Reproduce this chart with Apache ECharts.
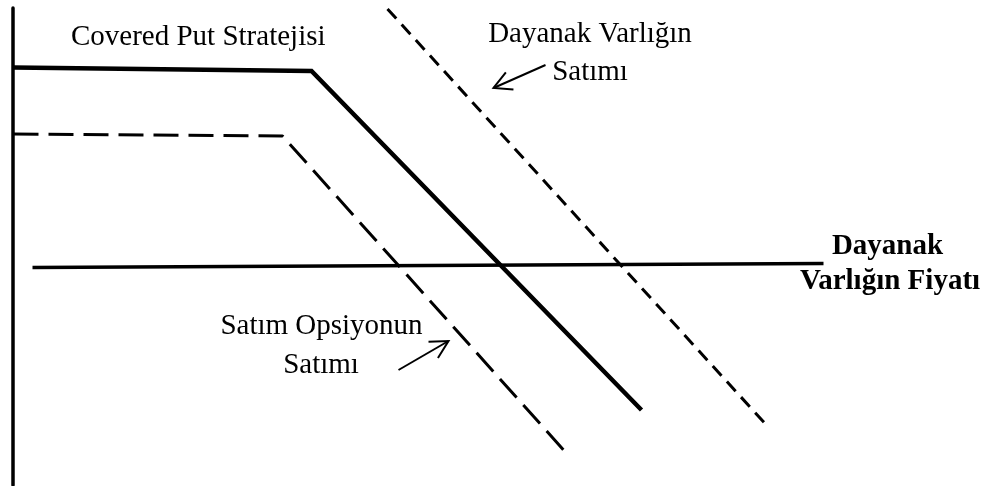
<!DOCTYPE html>
<html>
<head>
<meta charset="utf-8">
<script src="https://cdn.jsdelivr.net/npm/echarts@6/dist/echarts.min.js"></script>
<style>
html,body{margin:0;padding:0;background:#fff;}
#chart{width:987px;height:486px;}
</style>
</head>
<body>
<div id="chart"></div>
<script>
// Payoff diagram values (x = underlying price units, y = profit units; 0 = price axis)
const coveredPutX = [1, 299, 629];
const coveredPutY = [198.5, 195, -144];
const shortPutX = [1, 270, 552];
const shortPutY = [132, 130, -185];
const shortAssetX = [375, 753];
const shortAssetY = [257, -158];
const priceLineX = [20, 811];
const priceLineY = [-1.5, 2.5];
// annotation arrows: [fromX, fromY, toX, toY]
const arrowAsset = [533, 201, 481, 178];
const arrowPut = [386, -104, 436, -75];
// texts
const titleText = 'Covered Put Stratejisi';
const assetLabel = ['Dayanak Varlığın', 'Satımı'];
const putLabel = ['Satım Opsiyonun', 'Satımı'];
const axisLabel = ['Dayanak', 'Varlığın Fiyatı'];

function pairs(xs, ys) { return xs.map((x, i) => [x, ys[i]]); }

const FONT = "'Times New Roman', 'Liberation Serif', serif";
const chart = echarts.init(document.getElementById('chart'), null, {renderer: 'canvas'});

function txt(text, x, y, align, bold) {
  return {
    type: 'text', x: x, y: y, silent: true,
    style: {
      text: text, fill: '#000', font: (bold ? 'bold ' : '') + '29px ' + FONT,
      align: align, verticalAlign: 'middle'
    }
  };
}

const option = {
  animation: false,
  backgroundColor: '#fff',
  grid: {left: 12.5, right: 0, top: 8, bottom: 1, containLabel: false},
  xAxis: {type: 'value', min: 0, max: 974.5, show: false},
  yAxis: {
    type: 'value', min: -219, max: 258,
    axisLine: {show: true, lineStyle: {color: '#000', width: 3.5}},
    axisTick: {show: false}, axisLabel: {show: false}, splitLine: {show: false}
  },
  series: [
    {type: 'line', data: pairs(priceLineX, priceLineY), symbol: 'none',
     lineStyle: {color: '#000', width: 3.5}},
    {type: 'line', data: pairs(coveredPutX, coveredPutY), symbol: 'none',
     lineStyle: {color: '#000', width: 4.5, join: 'miter'}},
    {type: 'line', data: pairs(shortPutX, shortPutY), symbol: 'none',
     lineStyle: {color: '#000', width: 3, type: [25, 10], cap: 'butt'}},
    {type: 'line', data: pairs(shortAssetX, shortAssetY), symbol: 'none',
     lineStyle: {color: '#000', width: 3, type: [13, 8], cap: 'butt'}},
    {
      type: 'custom',
      data: [arrowAsset, arrowPut],
      encode: {x: [0, 2], y: [1, 3]},
      renderItem: function (params, api) {
        const p1 = api.coord([api.value(0), api.value(1)]);
        const p2 = api.coord([api.value(2), api.value(3)]);
        const ang = Math.atan2(p1[1] - p2[1], p1[0] - p2[0]);
        const L = 20, a = 28 * Math.PI / 180;
        const w1 = [p2[0] + L * Math.cos(ang + a), p2[1] + L * Math.sin(ang + a)];
        const w2 = [p2[0] + L * Math.cos(ang - a), p2[1] + L * Math.sin(ang - a)];
        return {
          type: 'group',
          children: [
            {type: 'line', shape: {x1: p1[0], y1: p1[1], x2: p2[0], y2: p2[1]},
             style: {stroke: '#000', lineWidth: 2}},
            {type: 'polyline', shape: {points: [w1, p2, w2]},
             style: {stroke: '#000', lineWidth: 2, fill: null}}
          ]
        };
      }
    }
  ],
  graphic: [
    txt(titleText, 71, 37, 'left', false),
    txt(assetLabel[0], 590, 34, 'center', false),
    txt(assetLabel[1], 590, 72, 'center', false),
    txt(putLabel[0], 321.5, 326, 'center', false),
    txt(putLabel[1], 321, 365, 'center', false),
    txt(axisLabel[0], 887.5, 247, 'center', true),
    txt(axisLabel[1], 890, 282, 'center', true)
  ]
};
chart.setOption(option);
</script>
</body>
</html>
